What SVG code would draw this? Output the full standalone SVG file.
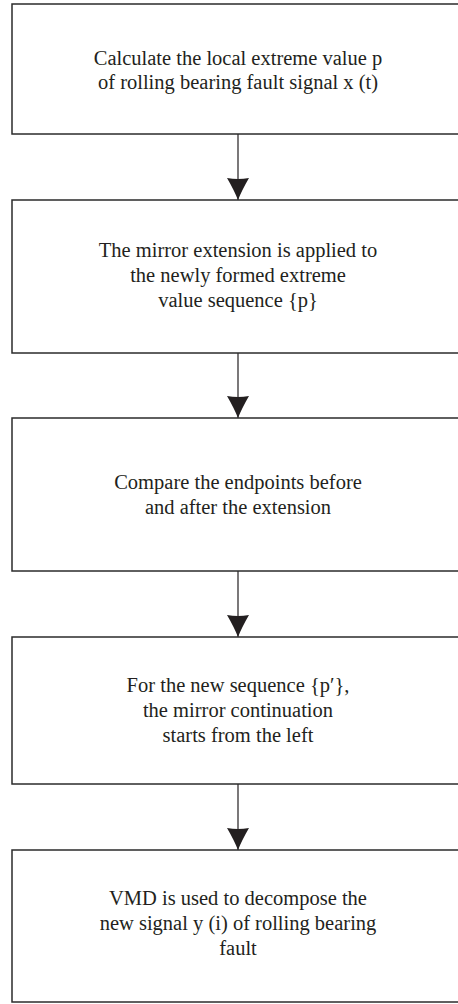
<svg xmlns="http://www.w3.org/2000/svg" width="458" height="1004" viewBox="0 0 458 1004">
<style>
.box{fill:#fff;stroke:#2b2b2b;stroke-width:1.5}
.t{font-family:'Liberation Serif','Times New Roman',serif;font-size:20.5px;fill:#231f20;text-anchor:middle}
.c{stroke:#231f20;stroke-width:1.2;fill:none}
</style>
<defs>
<marker id="ah" viewBox="0 0 22 22" refX="22" refY="11" markerWidth="22" markerHeight="22" markerUnits="userSpaceOnUse" orient="auto">
<path d="M0,0 Q2,11 0,22 Q12,15 22,11 Q12,7 0,0 Z" fill="#231f20"/>
</marker>
</defs>
<rect width="458" height="1004" fill="#fff"/>
<g id="connectors">
<line class="c" x1="238" y1="134" x2="238" y2="200" marker-end="url(#ah)"/>
<line class="c" x1="238" y1="353" x2="238" y2="418" marker-end="url(#ah)"/>
<line class="c" x1="238" y1="571" x2="238" y2="637" marker-end="url(#ah)"/>
<line class="c" x1="238" y1="784" x2="238" y2="850" marker-end="url(#ah)"/>
</g>
<g id="n1" font-family="Liberation Serif, serif">
<rect class="box" x="12" y="4" width="460" height="130"/>
<text class="t" x="238" y="65">Calculate the local extreme value p</text>
<text class="t" x="238" y="89">of rolling bearing fault signal x (t)</text>
</g>
<g id="n2" font-family="Liberation Serif, serif">
<rect class="box" x="12" y="200" width="460" height="153"/>
<text class="t" x="238" y="256.5">The mirror extension is applied to</text>
<text class="t" x="238" y="281.5">the newly formed extreme</text>
<text class="t" x="238" y="306.5">value sequence {p}</text>
</g>
<g id="n3" font-family="Liberation Serif, serif">
<rect class="box" x="12" y="418" width="460" height="153"/>
<text class="t" x="238" y="488.5">Compare the endpoints before</text>
<text class="t" x="238" y="513.5">and after the extension</text>
</g>
<g id="n4" font-family="Liberation Serif, serif">
<rect class="box" x="12" y="637" width="460" height="147"/>
<text class="t" x="238" y="691.5">For the new sequence {p′},</text>
<text class="t" x="238" y="716.5">the mirror continuation</text>
<text class="t" x="238" y="741.5">starts from the left</text>
</g>
<g id="n5" font-family="Liberation Serif, serif">
<rect class="box" x="12" y="850" width="460" height="152"/>
<text class="t" x="238" y="905">VMD is used to decompose the</text>
<text class="t" x="238" y="930">new signal y (i) of rolling bearing</text>
<text class="t" x="238" y="955">fault</text>
</g>
</svg>
